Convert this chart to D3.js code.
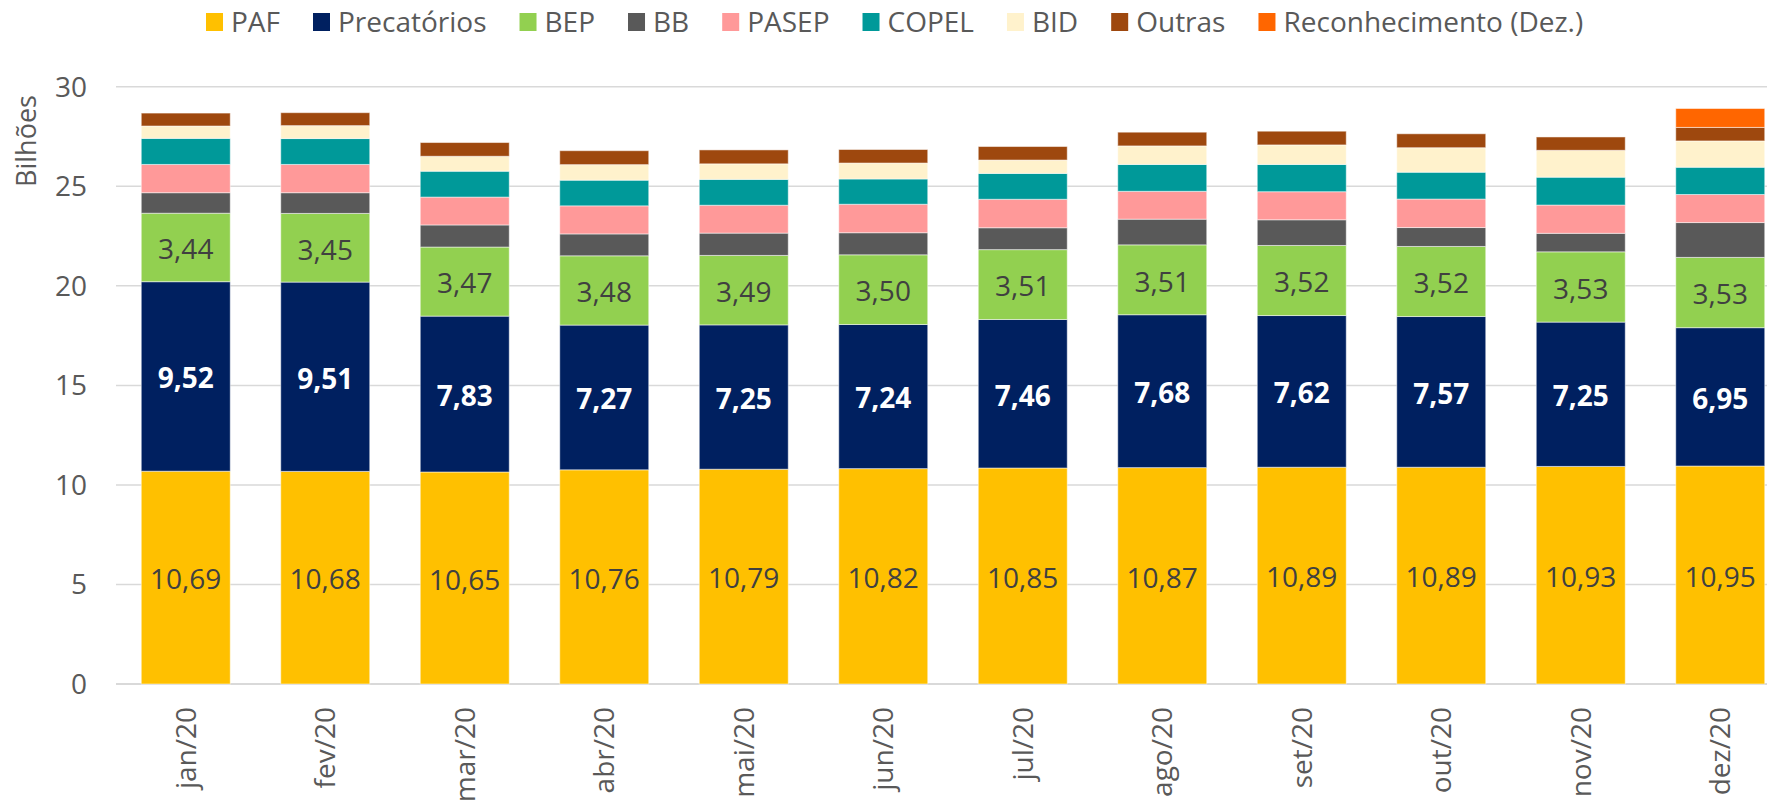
<!DOCTYPE html>
<html>
<head>
<meta charset="utf-8">
<script src="https://cdn.jsdelivr.net/npm/d3@7"></script>
<style>
  body { margin: 0; background: #fff; }
  svg { display: block; font-family: "Open Sans", sans-serif; }
</style>
</head>
<body>
<div id="chart"></div>
<script>
// values (billions)
var months = ["jan/20", "fev/20", "mar/20", "abr/20", "mai/20", "jun/20", "jul/20", "ago/20", "set/20", "out/20", "nov/20", "dez/20"];
var paf = [10.69, 10.68, 10.65, 10.76, 10.79, 10.82, 10.85, 10.87, 10.89, 10.89, 10.93, 10.95];
var precatorios = [9.52, 9.51, 7.83, 7.27, 7.25, 7.24, 7.46, 7.68, 7.62, 7.57, 7.25, 6.95];
var bep = [3.44, 3.45, 3.47, 3.48, 3.49, 3.50, 3.51, 3.51, 3.52, 3.52, 3.53, 3.53];
var bb = [1.03, 1.04, 1.11, 1.10, 1.12, 1.11, 1.10, 1.29, 1.29, 0.95, 0.93, 1.75];
var pasep = [1.42, 1.42, 1.40, 1.41, 1.40, 1.43, 1.43, 1.40, 1.41, 1.43, 1.42, 1.41];
var copel = [1.31, 1.30, 1.30, 1.29, 1.30, 1.27, 1.30, 1.35, 1.37, 1.35, 1.40, 1.37];
var bid = [0.62, 0.65, 0.75, 0.78, 0.78, 0.80, 0.67, 0.93, 0.98, 1.23, 1.35, 1.32];
var outras = [0.65, 0.65, 0.69, 0.70, 0.70, 0.68, 0.68, 0.69, 0.69, 0.70, 0.67, 0.68];
var reconhecimento = [0, 0, 0, 0, 0, 0, 0, 0, 0, 0, 0, 0.95];
var yTicks = [0, 5, 10, 15, 20, 25, 30];

var seriesNames = ["PAF", "Precatórios", "BEP", "BB", "PASEP", "COPEL", "BID", "Outras", "Reconhecimento (Dez.)"];
var seriesValues = [paf, precatorios, bep, bb, pasep, copel, bid, outras, reconhecimento];
var colors = ["#FFC000", "#002060", "#92D050", "#595959", "#FF9999", "#009999", "#FFF2CC", "#9E480E", "#FF6600"];

var width = 1767, height = 802;
var x0 = 116, x1 = 1790; // plot runs past the right edge like the original
var yTop = 86.8, yBottom = 684;

var rows = months.map(function (m, i) {
    var r = { month: m };
    seriesNames.forEach(function (s, j) { r[s] = seriesValues[j][i]; });
    return r;
});

var stack = d3.stack().keys(seriesNames);
var layers = stack(rows);

var x = d3.scaleBand().domain(months).range([x0, x1]).paddingInner(0.362).paddingOuter(0.181);
var y = d3.scaleLinear().domain([0, 30]).range([yBottom, yTop]);
var color = d3.scaleOrdinal().domain(seriesNames).range(colors);
var fmt = d3.formatLocale({ decimal: ",", thousands: ".", grouping: [3], currency: ["R$", ""] }).format(".2f");

var svg = d3.select("#chart").append("svg")
    .attr("width", width)
    .attr("height", height);

// gridlines
svg.append("g")
    .selectAll("line")
    .data(yTicks)
    .enter()
    .append("line")
    .attr("x1", x0).attr("x2", x1)
    .attr("y1", function (d) { return y(d); })
    .attr("y2", function (d) { return y(d); })
    .attr("stroke", "#d9d9d9")
    .attr("stroke-width", function (d) { return d === 0 ? 2 : 1.5; });

// y axis labels
svg.append("g")
    .selectAll("text")
    .data(yTicks)
    .enter()
    .append("text")
    .attr("x", 87)
    .attr("y", function (d) { return y(d); })
    .attr("dy", "0.35em")
    .attr("text-anchor", "end")
    .style("font-size", "28px")
    .style("fill", "#595959")
    .text(function (d) { return d; });

svg.append("text")
    .attr("transform", "translate(27,141) rotate(-90)")
    .attr("text-anchor", "middle")
    .attr("dy", "0.35em")
    .style("font-size", "27px")
    .style("fill", "#595959")
    .text("Bilhões");

// stacked bars
var layer = svg.append("g")
    .selectAll("g")
    .data(layers)
    .enter()
    .append("g")
    .attr("fill", function (d) { return color(d.key); });

layer.selectAll("rect")
    .data(function (d) { return d; })
    .enter()
    .append("rect")
    .attr("x", function (d) { return x(d.data.month); })
    .attr("width", x.bandwidth())
    .attr("y", function (d) { return y(d[1]); })
    .attr("height", function (d) { return y(d[0]) - y(d[1]); })
    .attr("stroke", "#ffffff")
    .attr("stroke-opacity", function (d) { return d[1] - d[0] > 0 ? 0.5 : 0; })
    .attr("stroke-width", 1);

// data labels for PAF, Precatórios, BEP
layers.slice(0, 3).forEach(function (l, k) {
    svg.append("g")
        .selectAll("text")
        .data(l)
        .enter()
        .append("text")
        .attr("x", function (d) { return x(d.data.month) + x.bandwidth() / 2; })
        .attr("y", function (d) { return y((d[0] + d[1]) / 2); })
        .attr("dy", "0.42em")
        .attr("text-anchor", "middle")
        .style("font-size", "28px")
        .style("font-weight", k === 1 ? "bold" : "normal")
        .style("fill", k === 1 ? "#ffffff" : "#404040")
        .text(function (d) { return fmt(d[1] - d[0]); });
});

// x axis labels
svg.append("g")
    .selectAll("text")
    .data(months)
    .enter()
    .append("text")
    .attr("transform", function (d) {
        return "translate(" + (x(d) + x.bandwidth() / 2) + ",707) rotate(-90)";
    })
    .attr("text-anchor", "end")
    .attr("dy", "0.35em")
    .style("font-size", "28px")
    .style("fill", "#595959")
    .text(function (d) { return d; });

// legend
var legend = svg.append("g").attr("transform", "translate(206,22)");
var lx = 0;
seriesNames.forEach(function (s) {
    var item = legend.append("g").attr("transform", "translate(" + lx + ",0)");
    item.append("rect")
        .attr("x", 0).attr("y", -9)
        .attr("width", 17).attr("height", 18)
        .attr("fill", color(s));
    var t = item.append("text")
        .attr("x", 25)
        .attr("dy", "0.35em")
        .style("font-size", "28px")
        .style("fill", "#595959")
        .text(s);
    lx += 25 + t.node().getComputedTextLength() + 33;
});
</script>
</body>
</html>
